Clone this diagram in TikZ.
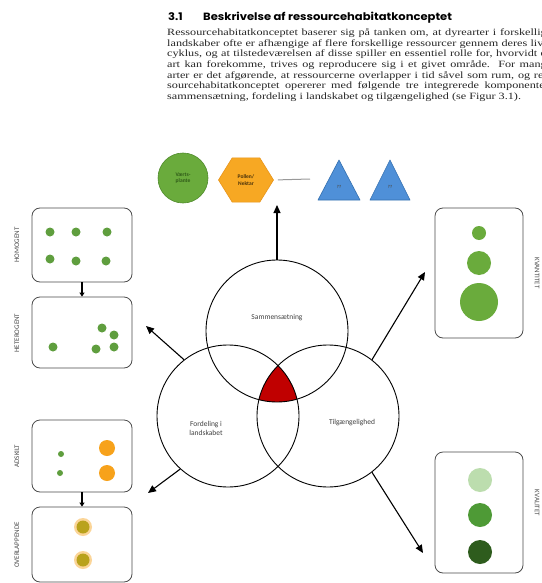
\documentclass[tikz,border=0pt]{standalone}
\usepackage{fontspec}
\setmainfont{Liberation Serif}
\newfontfamily\bodyfont[FakeStretch=1.27]{Liberation Serif}
\newfontfamily\titlefont[FakeStretch=1.1]{Poppins}
\newfontfamily\labfont{Carlito}
\usetikzlibrary{arrows.meta,shapes.geometric}
\definecolor{vgreen}{HTML}{6AAB3C}
\definecolor{vgreenD}{HTML}{4E8A2A}
\definecolor{vgreenT}{HTML}{2F5A18}
\definecolor{vorange}{HTML}{F7A823}
\definecolor{vorangeD}{HTML}{E8941A}
\definecolor{vblue}{HTML}{4F90D8}
\definecolor{vblueD}{HTML}{3470B0}
\definecolor{vred}{HTML}{C00000}
\definecolor{dotg}{HTML}{5F9E3E}
\definecolor{dotor}{HTML}{F7A21B}
\definecolor{dotol}{HTML}{B9A21C}
\definecolor{qlight}{HTML}{BCDDAE}
\definecolor{qmid}{HTML}{4E9A36}
\definecolor{qdark}{HTML}{2E5C1D}
\tikzset{
  venn/.style={circle, draw=black, line width=0.9pt, minimum size=142pt, inner sep=0pt},
  venntext/.style={font=\labfont\fontsize{7.5}{9}\selectfont, text=black!75, align=center},
  mainarrow/.style={-{Triangle[length=8pt,width=7pt]}, line width=1.1pt},
  smallarrow/.style={-{Triangle[length=4pt,width=5pt]}, line width=1.3pt},
  box/.style={draw=black!70, line width=0.8pt, rounded corners=8pt, inner sep=0pt},
  boxlab/.style={font=\labfont\fontsize{7}{8}\selectfont, text=black!70},
  bodytext/.style={anchor=base west, inner sep=0pt, font=\bodyfont\fontsize{9.6}{10.7}\selectfont, text=black!85},
  titletext/.style={anchor=base west, inner sep=0pt, font=\titlefont\bfseries\fontsize{10.5}{12}\selectfont},
  plantc/.style={circle, fill=vgreen, draw=vgreenD, line width=0.6pt, minimum size=50pt, inner sep=0pt,
    font=\labfont\bfseries\fontsize{5.5}{6.5}\selectfont, text=vgreenT, align=center},
  hexa/.style={regular polygon, regular polygon sides=6, fill=vorange, draw=vorangeD, line width=0.6pt,
    minimum size=55pt, inner sep=0pt, font=\labfont\bfseries\fontsize{5.5}{6.5}\selectfont, text=black!70!vorange, align=center},
  tri/.style={fill=vblue, draw=vblueD, line width=0.6pt, line join=round},
  tritext/.style={font=\labfont\bfseries\fontsize{4.5}{5}\selectfont, text=black!70, inner sep=0pt},
  greyline/.style={draw=black!40, line width=1pt}
}
\begin{document}
\begin{tikzpicture}[x=1pt,y=-1pt]
\useasboundingbox[fill=white] (0,0) rectangle (541,583);

% header
\node[titletext] (t31) at (168,21) {3.1};
\node[titletext] (ttl) at (203,21) {Beskrivelse af ressourcehabitatkonceptet};
\node[bodytext] (b1) at (167,35.5) {\hbox to 385pt{Ressourcehabitatkonceptet baserer sig på tanken om, at dyrearter i forskellige}};
\node[bodytext] (b2) at (167,46.2) {\hbox to 385pt{landskaber ofte er afhængige af flere forskellige ressourcer gennem deres livs-}};
\node[bodytext] (b3) at (167,56.9) {\hbox to 385pt{cyklus, og at tilstedeværelsen af disse spiller en essentiel rolle for, hvorvidt en}};
\node[bodytext] (b4) at (167,67.6) {\hbox to 385pt{art kan forekomme, trives og reproducere sig i et givet område. For mange}};
\node[bodytext] (b5) at (167,78.3) {\hbox to 385pt{arter er det afgørende, at ressourcerne overlapper i tid såvel som rum, og res-}};
\node[bodytext] (b6) at (167,89.0) {\hbox to 385pt{sourcehabitatkonceptet opererer med følgende tre integrerede komponenter:}};
\node[bodytext] (b7) at (167,99.7) {sammensætning, fordeling i landskabet og tilgængelighed (se Figur 3.1).};

% top row of resources
\node[plantc] (vp) at (183,178) {Værts-\\plante};
\node[hexa, yscale=0.93] (hx) at (246,180) {};
\node[font=\labfont\bfseries\fontsize{5.5}{6.5}\selectfont, text=black!70!vorange, align=center] (hxt) at (hx.center) {Pollen/\\Nektar};
\draw[tri] (318,200) -- (339,160) -- (360,200) -- cycle;
\draw[tri] (370,200) -- (390,160) -- (410,200) -- cycle;
\node[tritext] (tr1) at (339,187) {??};
\node[tritext] (tr2) at (390,187) {??};
\coordinate (lnEnd) at (310,179);
\draw[greyline, shorten <=4pt] (hx.east) -- (lnEnd);

% red centre
\begin{scope}
  \clip (277,331) circle (71pt);
  \clip (228,416) circle (71pt);
  \fill[vred] (328,416) circle (71pt);
\end{scope}

% venn circles
\node[venn] (T) at (277,331) {};
\node[venn] (L) at (228,416) {};
\node[venn] (R) at (328,416) {};
\node[venntext] (tT) at (277,318) {Sammensætning};
\node[venntext] (tL) at (206,428) {Fordeling i\\landskabet};
\node[venntext] (tR) at (352,423) {Tilgængelighed};

% arrows from circles
\coordinate (aT) at (277,205);
\coordinate (aUL) at (146,326);
\coordinate (aUR) at (425,272);
\coordinate (aLL) at (148,493);
\coordinate (aLR) at (423,553);
\draw[mainarrow] (T.north) -- (aT);
\draw[mainarrow] (L.128) -- (aUL);
\draw[mainarrow] (R.52) -- (aUR);
\draw[mainarrow] (L.228) -- (aLL);
\draw[mainarrow] (R.-52) -- (aLR);

% left boxes
\node[box, minimum width=100pt, minimum height=74pt] (H) at (82,245) {};
\node[box, minimum width=100pt, minimum height=71pt] (He) at (82,332.5) {};
\node[box, minimum width=100pt, minimum height=72pt] (A) at (82,456) {};
\node[box, minimum width=100pt, minimum height=75pt] (O) at (82,544.5) {};
\draw[smallarrow] (H.south) -- (He.north);
\draw[smallarrow] (A.south) -- (O.north);
\node[boxlab, rotate=90] (lH) at (17,245) {HOMOGENT};
\node[boxlab, rotate=90] (lHe) at (17,333) {HETEROGENT};
\node[boxlab, rotate=90] (lA) at (17,456) {ADSKILT};
\node[boxlab, rotate=90] (lO) at (17,545) {OVERLAPPENDE};

% right boxes
\node[box, minimum width=88pt, minimum height=130pt] (K1) at (479,273) {};
\node[box, minimum width=88pt, minimum height=121pt] (K2) at (479,512.5) {};
\node[boxlab, rotate=-90] (lK1) at (537,273) {KVANTITET};
\node[boxlab, rotate=-90] (lK2) at (537,503) {KVALITET};

% dots homogent
\foreach \p in {(50,232),(76,232),(107,232),(50,259),(76,261),(106,261)}
  \fill[dotg] \p circle (4.5pt);
% dots heterogent
\foreach \p in {(53,347),(102,328),(114,335),(114,347),(96,349)}
  \fill[dotg] \p circle (4.5pt);
% adskilt
\fill[dotg] (61,454) circle (3pt);
\fill[dotg] (60,473) circle (3pt);
\fill[dotor] (107,448) circle (8pt);
\fill[dotor] (107,473) circle (8pt);
% overlappende
\foreach \p in {(83,527),(83,560)}{
  \fill[dotor, opacity=0.45] \p circle (9pt);
  \fill[dotol] \p circle (6.5pt);
}
% kvantitet
\fill[vgreen] (479,233) circle (7pt);
\fill[vgreen] (479,263) circle (12pt);
\fill[vgreen] (479,302) circle (19pt);
% kvalitet
\fill[qlight] (480,480) circle (12pt);
\fill[qmid] (480,515) circle (12pt);
\fill[qdark] (480,552) circle (12pt);
\end{tikzpicture}
\end{document}
